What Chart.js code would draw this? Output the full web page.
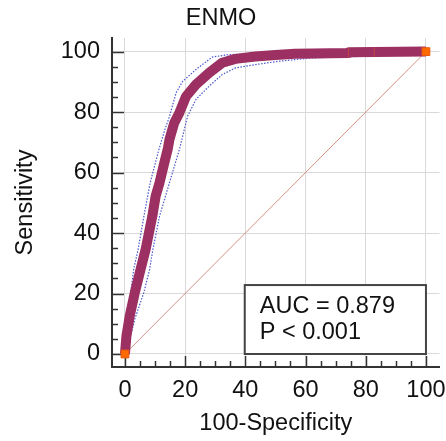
<!DOCTYPE html>
<html><head><meta charset="utf-8">
<script src="https://cdn.jsdelivr.net/npm/chart.js@4"></script>
<style>html,body{margin:0;padding:0;background:#fff}canvas{display:block}</style>
</head><body>
<canvas id="c" width="446" height="441"></canvas>
<script>
// ---- data ----
const chartTitle = 'ENMO';
const xTitle = '100-Specificity';
const yTitle = 'Sensitivity';
const tickLabels = ['0', '20', '40', '60', '80', '100'];
const rocX = [0, 0.5, 1.6, 3.3, 5.2, 6.9, 8, 9.1, 10.2, 11.5, 12.8, 14.2, 14.8, 16.4, 18.1, 20.3, 23.6, 28, 32.3, 36.7, 43.3, 50, 56.5, 74.3, 74.3, 100];
const rocY = [0, 6, 12.6, 20.4, 28, 34.7, 40.2, 45.6, 52.2, 56.7, 62.1, 67.7, 71, 76.5, 79.8, 85.2, 89.1, 93, 96.3, 97.6, 98.4, 98.9, 99.3, 99.5, 99.8, 100];
const upperX = [0, 1, 2.2, 2.9, 4.4, 6.3, 8.4, 11.3, 13.2, 14.8, 17, 19.2, 23.6, 29, 34.5, 43.3, 55, 70, 100];
const upperY = [2, 13, 22.5, 28, 34.7, 45.6, 56.7, 67.7, 74, 78.6, 86.4, 90.2, 94.1, 98.2, 99, 99.3, 99.6, 99.9, 100];
const lowerX = [0, 1.1, 3.3, 6.3, 8.2, 9.3, 11.5, 14.8, 18.1, 20.8, 23.6, 28, 32.3, 36.7, 43.3, 51, 61.9, 77.9, 90, 100];
const lowerY = [0, 2.7, 11.6, 20.4, 28, 34.7, 45.6, 56.7, 67.7, 78.6, 84.2, 88.6, 92.4, 94.6, 95.7, 96.8, 97.9, 98.4, 99.3, 100];
const diagX = [0, 100];
const diagY = [0, 100];
const endX = [0, 100];
const endY = [0, 100];
const stepX = [74.3, 82.8];
const stepY = [99.6, 99.8];
const aucLines = ['AUC = 0.879', 'P < 0.001'];

// ---- helpers / styling ----
const zip = (xs, ys) => xs.map((v, i) => ({x: v, y: ys[i]}));
const FONT = "'Liberation Sans', Arial, Helvetica, sans-serif";
const FS = 23.5;
const tickValues = [];
for (let v = 0; v <= 100; v += 5) tickValues.push(v);
const isMajor = v => v % 20 === 0;

const inwardTicks = {
  id: 'inwardTicks',
  beforeDatasetsDraw(chart) {
    const {ctx, chartArea: a, scales: {x, y}} = chart;
    ctx.save();
    ctx.setLineDash([]);
    ctx.strokeStyle = '#333';
    ctx.lineWidth = 1.5;
    x.ticks.forEach(t => {
      const px = Math.round(x.getPixelForValue(t.value)) + 0.5;
      const len = isMajor(t.value) ? 11 : 6;
      ctx.beginPath(); ctx.moveTo(px, a.bottom); ctx.lineTo(px, a.bottom - len); ctx.stroke();
    });
    y.ticks.forEach(t => {
      const py = Math.round(y.getPixelForValue(t.value)) + 0.5;
      const len = isMajor(t.value) ? 12 : 6;
      ctx.beginPath(); ctx.moveTo(a.left, py); ctx.lineTo(a.left + len, py); ctx.stroke();
    });
    ctx.restore();
  }
};

const aucBox = {
  id: 'aucBox',
  afterDatasetsDraw(chart) {
    const {ctx, scales: {x, y}} = chart;
    const l = x.getPixelForValue(39.8), r = x.getPixelForValue(100);
    const t = y.getPixelForValue(22.8), b = y.getPixelForValue(0);
    ctx.save();
    ctx.setLineDash([]);
    ctx.fillStyle = '#fff';
    ctx.fillRect(l, t, r - l, b - t);
    ctx.strokeStyle = '#444';
    ctx.lineWidth = 2;
    ctx.strokeRect(l, t, r - l, b - t);
    ctx.fillStyle = '#111';
    ctx.font = FS + 'px ' + FONT;
    ctx.textBaseline = 'middle';
    ctx.textAlign = 'left';
    ctx.fillText(aucLines[0], l + 15, t + 21);
    ctx.fillText(aucLines[1], l + 15, t + 47.5);
    ctx.restore();
  }
};

const scaleCommon = {
  type: 'linear',
  min: -4.3,
  max: 104.5,
  afterBuildTicks: s => { s.ticks = tickValues.map(v => ({value: v})); },
  grid: {
    color: c => (c.tick && isMajor(c.tick.value)) ? '#d9d9d9' : 'rgba(0,0,0,0)',
    lineWidth: 1,
    drawTicks: false
  },
  border: {color: '#333', width: 2},
  ticks: {
    autoSkip: false,
    maxRotation: 0,
    color: '#111',
    font: {size: FS, family: FONT},
    callback: v => isMajor(v) ? tickLabels[v / 20] : ''
  }
};

new Chart(document.getElementById('c'), {
  type: 'scatter',
  data: {
    datasets: [
      {data: zip(endX, endY), pointStyle: 'rect', pointRadius: 5.5, backgroundColor: '#ff6a00', borderColor: '#e85a10', borderWidth: 1, showLine: false},
      {data: zip(stepX, stepY), pointStyle: 'line', rotation: 90, pointRadius: 5, borderColor: 'rgba(220,80,50,0.6)', borderWidth: 1, showLine: false},
      {data: zip(rocX, rocY), showLine: true, borderColor: '#9c3062', borderWidth: 10, borderDash: [], pointRadius: 0, borderJoinStyle: 'round', tension: 0},
      {data: zip(upperX, upperY), showLine: true, borderColor: 'rgb(75,85,205)', borderWidth: 1.2, borderDash: [1.5, 1.5], pointRadius: 0, tension: 0},
      {data: zip(lowerX, lowerY), showLine: true, borderColor: 'rgb(75,85,205)', borderWidth: 1.2, borderDash: [1.5, 1.5], pointRadius: 0, tension: 0},
      {data: zip(diagX, diagY), showLine: true, borderColor: 'rgb(212,145,135)', borderWidth: 1, borderDash: [], pointRadius: 0}
    ]
  },
  options: {
    responsive: false,
    devicePixelRatio: 1,
    animation: false,
    layout: {padding: {left: 0, right: 4, top: 0, bottom: 0}},
    plugins: {
      legend: {display: false},
      tooltip: {enabled: false},
      title: {display: true, text: chartTitle, color: '#111', font: {size: FS, weight: 'normal', family: FONT}, padding: {top: 4.5, bottom: 5.3}}
    },
    scales: {
      x: Object.assign({}, scaleCommon, {
        position: 'bottom',
        ticks: Object.assign({}, scaleCommon.ticks, {padding: 9}),
        title: {display: true, text: xTitle, color: '#111', font: {size: FS, family: FONT}, padding: {top: 0, bottom: 3}},
        afterFit: s => { s.height = 74; s.paddingLeft = 0; s.paddingRight = 0; }
      }),
      y: Object.assign({}, scaleCommon, {
        position: 'left',
        ticks: Object.assign({}, scaleCommon.ticks, {padding: 12}),
        title: {display: true, text: yTitle, color: '#111', font: {size: FS, family: FONT}, padding: {top: 11, bottom: 0}},
        afterFit: s => { s.width = 112; }
      })
    }
  },
  plugins: [inwardTicks, aucBox]
});
</script>
</body></html>
